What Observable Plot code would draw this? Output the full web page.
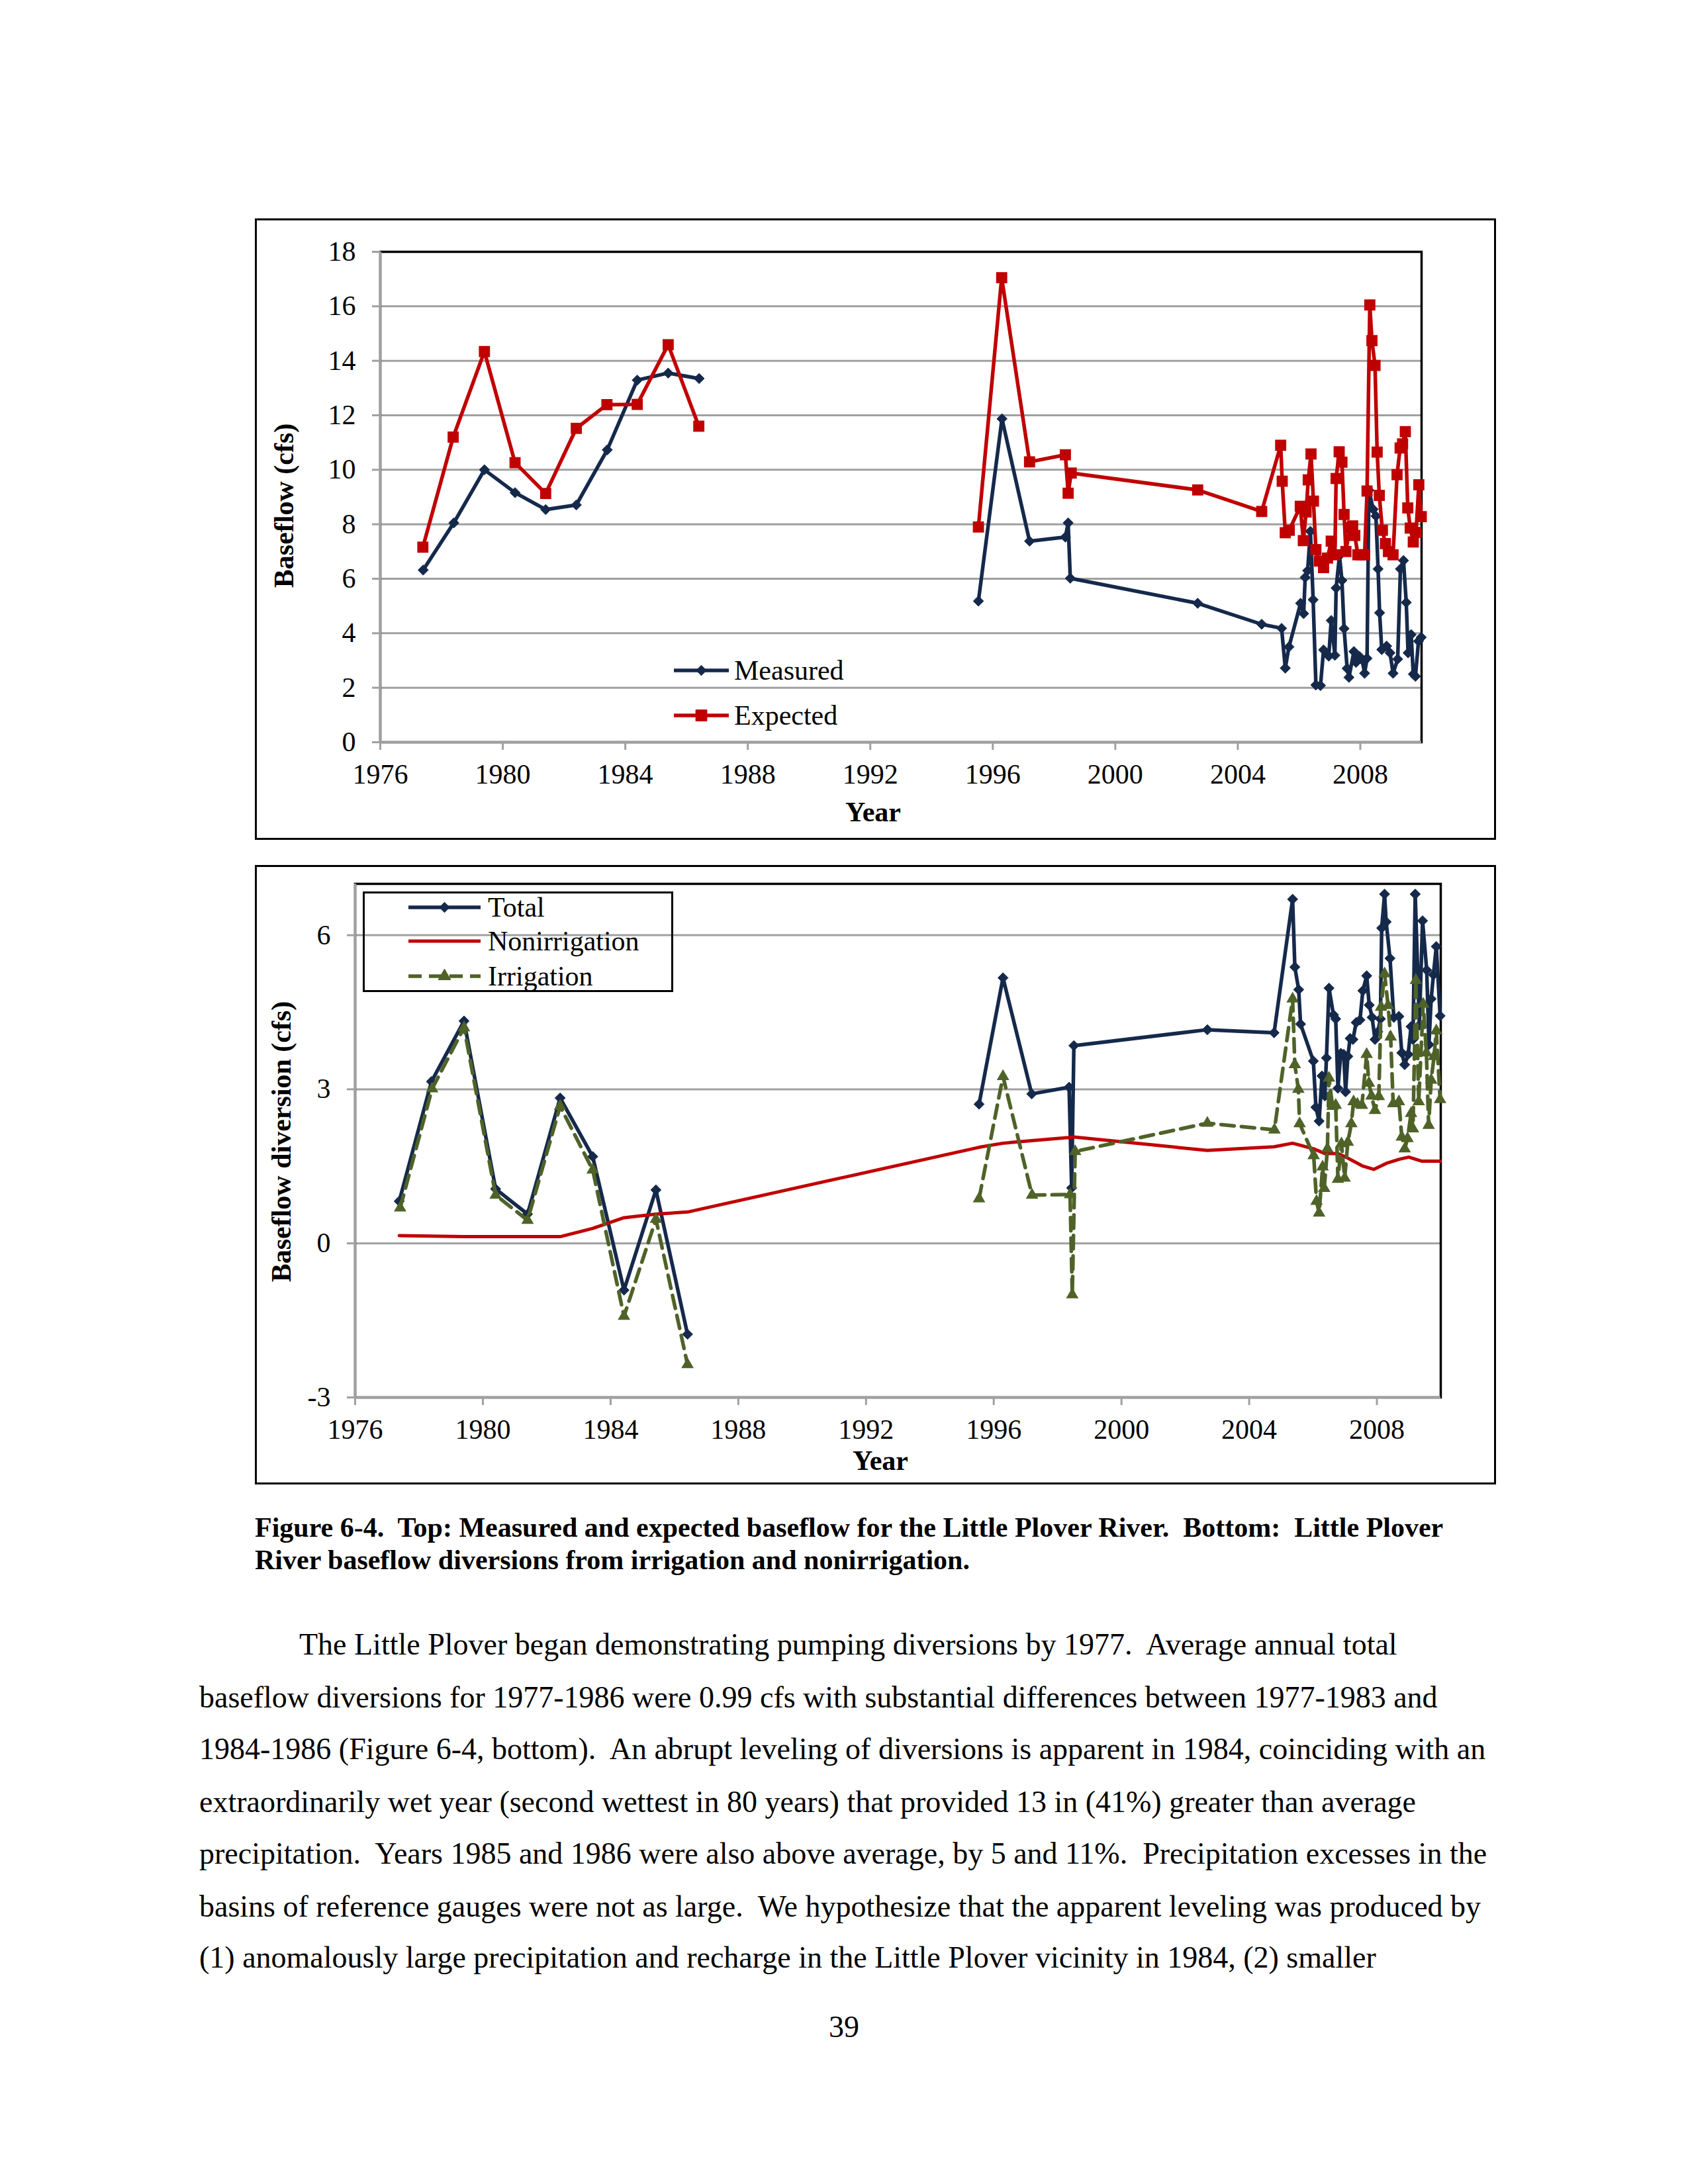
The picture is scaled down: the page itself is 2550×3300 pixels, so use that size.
<!DOCTYPE html>
<html><head><meta charset="utf-8">
<script src="https://cdn.jsdelivr.net/npm/d3@7"></script>
<script src="https://cdn.jsdelivr.net/npm/@observablehq/plot@0.6"></script>
<style>
html,body{margin:0;padding:0;background:#fff;}
#page{position:relative;width:2550px;height:3300px;background:#fff;font-family:"Liberation Serif","Times New Roman",serif;color:#000;overflow:hidden;}
.abs{position:absolute;white-space:pre;}
.box{position:absolute;border:3px solid #000;box-sizing:border-box;}
</style></head><body><div id="page"></div>
<script>
// ---------------- DATA ----------------
const yearTicks = [1976, 1980, 1984, 1988, 1992, 1996, 2000, 2004, 2008];
const topYTicks = [0, 2, 4, 6, 8, 10, 12, 14, 16, 18];
const bottomYTicks = [-3, 0, 3, 6];

const measuredYear = [1977.40, 1978.40, 1979.40, 1980.40, 1981.40, 1982.40, 1983.41, 1984.39, 1985.40, 1986.41,
  1995.53, 1996.30, 1997.20, 1998.37, 1998.46, 1998.53, 2002.69, 2004.78,
  2005.43, 2005.55, 2005.67, 2006.05, 2006.15, 2006.20, 2006.28, 2006.37, 2006.46, 2006.55, 2006.70, 2006.80,
  2006.97, 2007.05, 2007.17, 2007.21, 2007.32, 2007.40, 2007.47, 2007.57, 2007.63, 2007.79, 2007.86, 2007.97,
  2008.06, 2008.14, 2008.22, 2008.28, 2008.42, 2008.51, 2008.58, 2008.63, 2008.70, 2008.86, 2008.97, 2009.07,
  2009.22, 2009.31, 2009.41, 2009.50, 2009.56, 2009.66, 2009.73, 2009.80, 2009.90, 2009.99];
const measuredCfs = [6.32, 8.05, 10.0, 9.16, 8.54, 8.71, 10.73, 13.29, 13.55, 13.35,
  5.18, 11.87, 7.38, 7.53, 8.05, 6.02, 5.10, 4.33,
  4.18, 2.72, 3.50, 5.10, 4.72, 6.05, 6.30, 7.74, 5.23, 2.10, 2.08, 3.39,
  3.16, 4.47, 3.19, 5.66, 6.85, 5.94, 4.17, 2.71, 2.38, 3.33, 2.93, 3.15,
  3.02, 2.53, 3.08, 9.25, 8.55, 8.30, 6.36, 4.75, 3.40, 3.53, 3.28, 2.53,
  3.05, 6.36, 6.67, 5.13, 3.28, 3.95, 2.50, 2.42, 3.71, 3.85];

const expectedYear = [1977.39, 1978.38, 1979.40, 1980.40, 1981.40, 1982.40, 1983.40, 1984.39, 1985.40, 1986.40,
  1995.53, 1996.29, 1997.20, 1998.37, 1998.46, 1998.56, 2002.69, 2004.78,
  2005.40, 2005.45, 2005.55, 2005.68, 2006.04, 2006.14, 2006.23, 2006.30, 2006.39, 2006.47, 2006.55, 2006.66,
  2006.80, 2006.93, 2007.05, 2007.17, 2007.21, 2007.31, 2007.40, 2007.47, 2007.53, 2007.66, 2007.75, 2007.82,
  2007.92, 2008.03, 2008.14, 2008.22, 2008.31, 2008.38, 2008.48, 2008.55, 2008.62, 2008.72, 2008.82, 2008.92,
  2009.07, 2009.20, 2009.30, 2009.38, 2009.47, 2009.55, 2009.63, 2009.73, 2009.82, 2009.91, 2009.99];
const expectedCfs = [7.16, 11.2, 14.34, 10.26, 9.13, 11.52, 12.39, 12.4, 14.59, 11.6,
  7.9, 17.05, 10.29, 10.55, 9.14, 9.88, 9.26, 8.47,
  10.9, 9.58, 7.69, 7.78, 8.66, 7.40, 8.45, 9.63, 10.58, 8.85, 7.07, 6.65,
  6.41, 6.76, 7.38, 6.88, 9.68, 10.66, 10.28, 8.36, 7.00, 7.88, 7.94, 7.59,
  6.88, 6.88, 6.88, 9.22, 16.05, 14.74, 13.83, 10.65, 9.06, 7.78, 7.29, 7.00,
  6.88, 9.82, 10.8, 10.95, 11.4, 8.60, 7.86, 7.35, 7.70, 9.45, 8.28];

const totalYear = [1977.38, 1978.39, 1979.41, 1980.40, 1981.40, 1982.42, 1983.44, 1984.42, 1985.42, 1986.41,
  1995.54, 1996.29, 1997.19, 1998.36, 1998.44, 1998.51, 2002.69, 2004.78,
  2005.36, 2005.43, 2005.55, 2005.61, 2006.01, 2006.09, 2006.19, 2006.28, 2006.37, 2006.42, 2006.50, 2006.64,
  2006.71, 2006.78, 2006.87, 2006.96, 2007.02, 2007.09, 2007.16, 2007.25, 2007.35, 2007.47, 2007.56, 2007.68,
  2007.76, 2007.85, 2007.94, 2008.03, 2008.11, 2008.15, 2008.24, 2008.29, 2008.41, 2008.53, 2008.69, 2008.78,
  2008.87, 2008.98, 2009.07, 2009.13, 2009.20, 2009.33, 2009.43, 2009.56, 2009.63, 2009.70, 2009.77, 2009.86, 2009.98];
const totalCfs = [0.82, 3.15, 4.33, 1.06, 0.57, 2.83, 1.69, -0.91, 1.04, -1.77,
  2.71, 5.17, 2.91, 3.04, 1.08, 3.85, 4.16, 4.10,
  6.70, 5.38, 4.94, 4.27, 3.55, 2.65, 2.38, 3.26, 2.87, 3.61, 4.97, 4.45,
  4.37, 3.02, 3.70, 3.68, 2.95, 3.64, 3.99, 3.97, 4.30, 4.35, 4.92, 5.21,
  4.64, 4.40, 3.97, 4.12, 4.37, 6.14, 6.80, 6.26, 5.55, 4.40, 4.42, 3.71,
  3.48, 3.68, 4.22, 3.97, 6.80, 4.25, 6.28, 5.32, 3.87, 4.76, 5.23, 5.78, 4.43];

const nonirrigationYear = [1977.38, 1978.39, 1979.41, 1980.40, 1981.40, 1982.42, 1983.44, 1984.42, 1985.42, 1986.41,
  1995.54, 1996.29, 1997.19, 1998.36, 1998.51, 2002.69, 2004.78, 2005.36, 2006.02, 2006.37, 2006.78, 2007.06,
  2007.54, 2007.90, 2008.30, 2008.72, 2009.00, 2009.41, 2009.98];
const nonirrigationCfs = [0.15, 0.14, 0.13, 0.13, 0.13, 0.13, 0.29, 0.50, 0.57, 0.61,
  1.87, 1.95, 2.00, 2.06, 2.07, 1.81, 1.88, 1.95, 1.84, 1.75, 1.75, 1.67,
  1.51, 1.44, 1.56, 1.64, 1.68, 1.60, 1.60];

const irrigationYear = [1977.41, 1978.41, 1979.41, 1980.40, 1981.40, 1982.42, 1983.44, 1984.42, 1985.42, 1986.41,
  1995.54, 1996.29, 1997.20, 1998.39, 1998.46, 1998.55, 2002.69, 2004.79,
  2005.36, 2005.43, 2005.54, 2005.58, 2006.02, 2006.11, 2006.19, 2006.30, 2006.35, 2006.45, 2006.50, 2006.61,
  2006.71, 2006.78, 2006.89, 2006.99, 2007.09, 2007.20, 2007.27, 2007.39, 2007.53, 2007.68, 2007.75, 2007.83,
  2007.94, 2008.06, 2008.13, 2008.24, 2008.35, 2008.43, 2008.51, 2008.69, 2008.78, 2008.87, 2008.96, 2009.07,
  2009.13, 2009.22, 2009.31, 2009.45, 2009.55, 2009.62, 2009.70, 2009.79, 2009.86, 2009.98];
const irrigationCfs = [0.69, 3.01, 4.20, 0.94, 0.45, 2.67, 1.43, -1.42, 0.47, -2.36,
  0.87, 3.25, 0.94, 0.95, -1.00, 1.79, 2.34, 2.21,
  4.76, 3.48, 3.00, 2.33, 1.71, 0.82, 0.59, 1.49, 1.07, 1.84, 3.22, 2.67,
  2.69, 1.25, 1.94, 1.27, 1.97, 2.33, 2.76, 2.71, 2.69, 3.68, 3.12, 2.87,
  2.59, 2.86, 4.60, 5.25, 4.63, 4.02, 2.72, 2.76, 2.07, 1.84, 2.04, 2.53,
  2.23, 5.12, 2.76, 4.66, 3.71, 2.30, 3.18, 3.64, 4.14, 2.80];

// ---------------- STYLE ----------------
const SERIF = '"Liberation Serif","Times New Roman",serif';
const NAVY = "#15294b", RED = "#c00000", GREEN = "#4f6228", GRID = "#a0a0a0";
const LW = 5.5;
const page = document.getElementById("page");

const rows = (xs, ys) => xs.map((x, i) => ({year: x, v: ys[i]}));
const era = d => (d.year < 1990 ? "early" : "late");
const fmt = d => String(d);

const measured = rows(measuredYear, measuredCfs);
const expected = rows(expectedYear, expectedCfs);
const total = rows(totalYear, totalCfs);
const nonirr = rows(nonirrigationYear, nonirrigationCfs);
const irr = rows(irrigationYear, irrigationCfs);

function place(el, left, top) {
  el.style.position = "absolute";
  el.style.left = left + "px";
  el.style.top = top + "px";
  el.style.maxWidth = "none";
  page.appendChild(el);
}
function text(str, left, cy, size, opts = {}) {
  const d = document.createElement("div");
  d.className = "abs";
  d.textContent = str;
  d.style.fontSize = size + "px";
  d.style.lineHeight = size + "px";
  d.style.top = (cy - size / 2) + "px";
  d.style.left = left + "px";
  if (opts.bold) d.style.fontWeight = "bold";
  if (opts.center) d.style.transform = "translateX(-50%)";
  if (opts.rotate) { d.style.transform = "translate(-50%,0) rotate(-90deg)"; d.style.transformOrigin = "50% 50%"; }
  page.appendChild(d);
  return d;
}
function box(l, t, r, b) {
  const d = document.createElement("div");
  d.className = "box";
  d.style.left = l + "px"; d.style.top = t + "px";
  d.style.width = (r - l) + "px"; d.style.height = (b - t) + "px";
  page.appendChild(d);
}
function swatch(x1, x2, cy, color, width, dash, symbol, r) {
  const w = x2 - x1;
  const svg = d3.create("svg").attr("width", w + 40).attr("height", 40)
    .style("position", "absolute").style("left", (x1 - 20) + "px").style("top", (cy - 20) + "px").style("overflow", "visible");
  svg.append("line").attr("x1", 20).attr("x2", w + 20).attr("y1", 20).attr("y2", 20)
    .attr("stroke", color).attr("stroke-width", width).attr("stroke-dasharray", dash || null);
  if (symbol) svg.append("path").attr("d", d3.symbol(symbol, Math.PI * r * r)())
    .attr("transform", `translate(${w / 2 + 20},20)`).attr("fill", color).attr("stroke", color).attr("stroke-width", 1);
  page.appendChild(svg.node());
}

// ---------------- TOP CHART ----------------
box(385, 330, 2260, 1269);
const topChart = Plot.plot({
  width: 1875, height: 939,
  marginLeft: 189, marginRight: 113, marginTop: 50, marginBottom: 148,
  x: {domain: [1976, 2010]},
  y: {domain: [0, 18]},
  style: {fontFamily: SERIF, fontSize: "42px", background: "transparent", overflow: "visible", color: "#000"},
  marks: [
    Plot.gridY(topYTicks.filter(t => t > 0 && t < 18), {stroke: GRID, strokeOpacity: 1, strokeWidth: 3}),
    Plot.frame({stroke: "#000", strokeWidth: 3.5}),
    Plot.ruleX([1976], {stroke: GRID, strokeWidth: 3.5}),
    Plot.ruleY([0], {stroke: GRID, strokeWidth: 3.5}),
    Plot.axisY({ticks: topYTicks, tickSize: 12, tickPadding: 25, stroke: GRID, strokeWidth: 3, fill: "#000", label: null, tickFormat: fmt}),
    Plot.axisX({ticks: yearTicks, tickSize: 12, tickPadding: 21, stroke: GRID, strokeWidth: 3, fill: "#000", label: null, tickFormat: fmt}),
    Plot.line(measured, {x: "year", y: "v", z: era, stroke: NAVY, strokeWidth: LW, strokeLinejoin: "round"}),
    Plot.dot(measured, {x: "year", y: "v", symbol: "diamond2", r: 7, fill: NAVY, stroke: NAVY, strokeWidth: 1}),
    Plot.line(expected, {x: "year", y: "v", z: era, stroke: RED, strokeWidth: LW, strokeLinejoin: "round"}),
    Plot.dot(expected, {x: "year", y: "v", symbol: "square", r: 9.5, fill: RED})
  ]
});
place(topChart, 385, 330);

text("Baseflow (cfs)", 429, 764, 42, {bold: true, rotate: true});
text("Year", 1319, 1227, 42, {bold: true, center: true});
swatch(1018, 1101, 1013, NAVY, LW, null, d3.symbolDiamond2, 7);
text("Measured", 1109, 1013, 42);
swatch(1018, 1101, 1081, RED, LW, null, d3.symbolSquare, 9.5);
text("Expected", 1109, 1081, 42);

// ---------------- BOTTOM CHART ----------------
box(385, 1307, 2260, 2243);
const bottomChart = Plot.plot({
  width: 1875, height: 936,
  marginLeft: 151, marginRight: 84, marginTop: 28, marginBottom: 132,
  x: {domain: [1976, 2010]},
  y: {domain: [-3, 7]},
  style: {fontFamily: SERIF, fontSize: "42px", background: "transparent", overflow: "visible", color: "#000"},
  marks: [
    Plot.gridY(bottomYTicks.filter(t => t > -3), {stroke: GRID, strokeOpacity: 1, strokeWidth: 3}),
    Plot.frame({stroke: "#000", strokeWidth: 3.5}),
    Plot.ruleX([1976], {stroke: GRID, strokeWidth: 3.5}),
    Plot.ruleY([-3], {stroke: GRID, strokeWidth: 3.5}),
    Plot.axisY({ticks: bottomYTicks, tickSize: 12, tickPadding: 25, stroke: GRID, strokeWidth: 3, fill: "#000", label: null, tickFormat: fmt}),
    Plot.axisX({ticks: yearTicks, tickSize: 12, tickPadding: 21, stroke: GRID, strokeWidth: 3, fill: "#000", label: null, tickFormat: fmt}),
    Plot.line(total, {x: "year", y: "v", z: era, stroke: NAVY, strokeWidth: LW, strokeLinejoin: "round"}),
    Plot.dot(total, {x: "year", y: "v", symbol: "diamond2", r: 7, fill: NAVY, stroke: NAVY, strokeWidth: 1}),
    Plot.line(nonirr, {x: "year", y: "v", stroke: RED, strokeWidth: 5, strokeLinejoin: "round"}),
    Plot.line(irr, {x: "year", y: "v", z: era, stroke: GREEN, strokeWidth: LW, strokeDasharray: "20,11", strokeLinejoin: "round"}),
    Plot.dot(irr, {x: "year", y: "v", symbol: "triangle", r: 7, fill: GREEN})
  ]
});
place(bottomChart, 385, 1307);

text("Baseflow diversion (cfs)", 425, 1725, 42, {bold: true, rotate: true});
text("Year", 1330, 2207, 42, {bold: true, center: true});
box(548, 1347, 1017, 1499);
swatch(617, 726, 1371, NAVY, LW, null, d3.symbolDiamond2, 7);
text("Total", 737, 1371, 42);
swatch(617, 726, 1422, RED, 5, null, null, 0);
text("Nonirrigation", 737, 1422, 42);
swatch(617, 726, 1475, GREEN, LW, "20,11", d3.symbolTriangle, 7);
text("Irrigation", 737, 1475, 42);

// ---------------- CAPTION & BODY ----------------
text("Figure 6-4.  Top: Measured and expected baseflow for the Little Plover River.  Bottom:  Little Plover", 385, 2308, 42, {bold: true});
text("River baseflow diversions from irrigation and nonirrigation.", 385, 2357, 42, {bold: true});

const bodyLines = [
  "The Little Plover began demonstrating pumping diversions by 1977.  Average annual total",
  "baseflow diversions for 1977-1986 were 0.99 cfs with substantial differences between 1977-1983 and",
  "1984-1986 (Figure 6-4, bottom).  An abrupt leveling of diversions is apparent in 1984, coinciding with an",
  "extraordinarily wet year (second wettest in 80 years) that provided 13 in (41%) greater than average",
  "precipitation.  Years 1985 and 1986 were also above average, by 5 and 11%.  Precipitation excesses in the",
  "basins of reference gauges were not as large.  We hypothesize that the apparent leveling was produced by",
  "(1) anomalously large precipitation and recharge in the Little Plover vicinity in 1984, (2) smaller"
];
const bodyY = [2485, 2565, 2643, 2723, 2801, 2881, 2958];
bodyLines.forEach((s, i) => text(s, i === 0 ? 452 : 301, bodyY[i], 46));
text("39", 1275, 3063, 46, {center: true});
</script></body></html>
